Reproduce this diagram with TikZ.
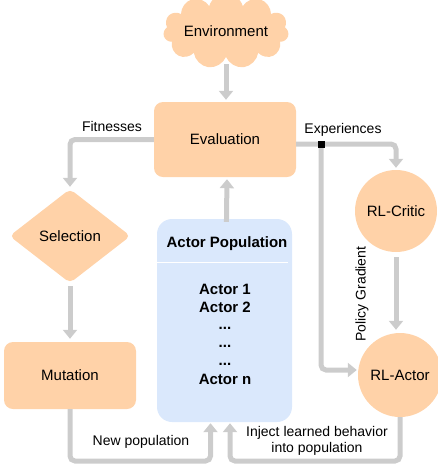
\documentclass[tikz,border=0pt]{standalone}
\usepackage{fontspec}
\setmainfont{Liberation Sans}
\usetikzlibrary{shapes.geometric,shapes.symbols,arrows.meta}
\definecolor{orangefill}{RGB}{255,210,168}
\definecolor{bluefill}{RGB}{218,232,252}
\definecolor{arrowgray}{RGB}{204,204,204}
\begin{document}
\begin{tikzpicture}[x=1pt,y=-1pt,
  nodefont/.style={font=\fontsize{15}{18}\selectfont},
  labelfont/.style={font=\fontsize{14}{16}\selectfont, inner sep=0pt},
  boldfont/.style={font=\fontsize{15}{18}\selectfont\bfseries, inner sep=0pt},
  orangebox/.style={fill=orangefill, rounded corners=9pt, nodefont, inner sep=0pt},
  orangecircle/.style={circle, fill=orangefill, nodefont, inner sep=0pt},
  conn/.style={draw=arrowgray, line width=5pt, rounded corners=5pt, -{Triangle[width=14pt,length=9pt]}}
]
\useasboundingbox (0,0) rectangle (438,467);

% nodes
\node[cloud, cloud puffs=11, aspect=2.3, fill=orangefill, minimum width=118pt, minimum height=54pt, nodefont, inner sep=0pt] (env) at (226,31) {Environment};
\node[orangebox, minimum width=142pt, minimum height=75pt] (eval) at (225,139.5) {Evaluation};
\node[diamond, aspect=1.29, fill=orangefill, minimum width=121pt, minimum height=94pt, rounded corners=5pt, nodefont, inner sep=0pt] (sel) at (70,236) {Selection};
\node[orangebox, minimum width=132pt, minimum height=67pt] (mut) at (70,375.5) {Mutation};
\node[orangecircle, minimum size=82pt] (critic) at (396,211) {RL-Critic};
\node[orangecircle, minimum size=84pt] (actor) at (400,375) {RL-Actor};

\node[fill=bluefill, rounded corners=15pt, minimum width=135pt, minimum height=203pt, inner sep=0pt] (pop) at (224.5,320.5) {};
\draw[white, line width=1pt] (157,262) -- (288,262);
\node[boldfont] (poptitle) at (227,244) {Actor Population};
\node[boldfont] (a1) at (225,289) {Actor 1};
\node[boldfont] (a2) at (225,307) {Actor 2};
\node[boldfont] (d1) at (225,328) {...};
\node[boldfont] (d2) at (225,346) {...};
\node[boldfont] (d3) at (225,364) {...};
\node[boldfont] (an) at (225,379) {Actor n};

% connectors
\draw[conn, shorten <=7pt, shorten >=2pt] (env.south) -- (env.south |- eval.north);
\draw[conn, shorten >=2pt] (eval.west) -| (sel.north);
\draw[conn, shorten <=3pt, shorten >=3pt] (sel.south) -- (mut.north);
\draw[conn, shorten <=-3pt, shorten >=2pt] ([xshift=2pt]pop.north) -- ([xshift=2pt]eval.south);
\coordinate (junc) at (321,144);
\draw[conn, shorten >=2pt] (eval.east |- junc) -| (critic.north);
\draw[conn, shorten >=1pt] (junc) |- ([yshift=5pt]actor.west);
\draw[conn, shorten <=5pt, shorten >=3pt] (critic.south) -- (critic.south |- actor.north);
\node[fill=black, minimum size=7pt, inner sep=0pt] (jsq) at (junc) {};
\draw[conn, shorten >=1pt] (mut.south) -- (mut.south |- 0,461) -| ([xshift=-14pt]pop.south);
\draw[conn, shorten >=1pt] (actor.south) -- (actor.south |- 0,461) -| ([xshift=5.5pt]pop.south);

% labels
\node[labelfont] (lfit) at (112,126) {Fitnesses};
\node[labelfont] (lexp) at (343,130) {Experiences};
\node[labelfont, rotate=90] (lpg) at (362,294) {Policy Gradient};
\node[labelfont] (lnew) at (141,442) {New population};
\node[labelfont, align=center] (linj) at (317,441) {Inject learned behavior\\into population};
\end{tikzpicture}
\end{document}
